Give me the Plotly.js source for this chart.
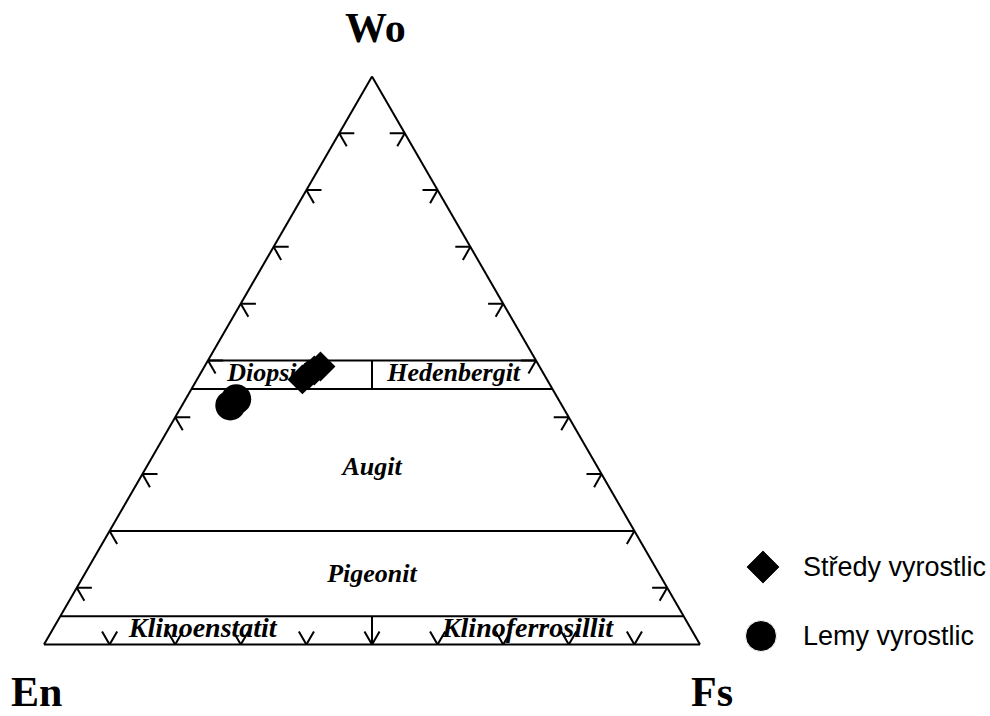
<!DOCTYPE html>
<html>
<head>
<meta charset="utf-8">
<script src="https://cdn.plot.ly/plotly-3.0.1.min.js"></script>
<style>
  html, body { margin: 0; padding: 0; background: #fff; }
  #chart { width: 990px; height: 716px; }
</style>
</head>
<body>
<div id="chart"></div>
<script>
// Pyroxene compositions in mol. % (Wo + En + Fs = 100)
const seriesNames = ['Středy vyrostlic', 'Lemy vyrostlic'];

// phenocryst cores
const coreWo = [46.67, 47.54, 48.25, 48.95];
const coreEn = [37.27, 35.92, 34.68, 33.38];
const coreFs = [16.06, 16.54, 17.07, 17.67];

// phenocryst rims
const rimWo = [42.1, 43.2];
const rimEn = [50.55, 49.1];
const rimFs = [7.35, 7.7];

// classification fields
const boundaryWo = [50, 45, 20, 5];
const fieldNames = ['Diopsid', 'Hedenbergit', 'Augit', 'Pigeonit', 'Klinoenstatit', 'Klinoferrosillit'];
const fieldWo = [47.5, 47.5, 31.0, 12.1, 2.6, 2.6];
const fieldEn = [42.05, 13.8, 34.5, 43.95, 74.5, 25.0];
const fieldFs = [10.45, 38.7, 34.5, 43.95, 22.9, 72.4];
const fieldSize = [26, 26, 26, 26, 28, 28];

// tick positions along each side
const tickVals = [10, 20, 30, 40, 50, 60, 70, 80, 90];
const cornerNames = ['Wo', 'En', 'Fs'];

const W = 990, H = 716;
const ink = '#000';
const TL = 2.3; // tick arm length in %

// helper: collect line segments as a, b, c arrays separated by gaps
function segs() {
  const s = {a: [], b: [], c: []};
  s.add = function (p, q) {
    s.a.push(p[0], q[0], null);
    s.b.push(p[1], q[1], null);
    s.c.push(p[2], q[2], null);
  };
  return s;
}

// field boundary lines
const bounds = segs();
boundaryWo.forEach(w => bounds.add([w, 100 - w, 0], [w, 0, 100 - w]));
// En = Fs dividers inside the Di-Hd and Cen-Cfs bands
bounds.add([boundaryWo[0], (100 - boundaryWo[0]) / 2, (100 - boundaryWo[0]) / 2],
           [boundaryWo[1], (100 - boundaryWo[1]) / 2, (100 - boundaryWo[1]) / 2]);
bounds.add([boundaryWo[3], (100 - boundaryWo[3]) / 2, (100 - boundaryWo[3]) / 2],
           [0, 50, 50]);

// arrow-like ticks on the three sides
const ticks = segs();
tickVals.forEach(v => {
  // En–Wo side
  ticks.add([v, 100 - v, 0], [v, 100 - v - TL, TL]);
  ticks.add([v, 100 - v, 0], [v - TL, 100 - v, TL]);
  // Wo–Fs side
  ticks.add([v, 0, 100 - v], [v, TL, 100 - v - TL]);
  ticks.add([v, 0, 100 - v], [v - TL, TL, 100 - v]);
  // En–Fs side
  ticks.add([0, 100 - v, v], [TL, 100 - v - TL, v]);
  ticks.add([0, 100 - v, v], [TL, 100 - v, v - TL]);
});

const lineTrace = (s) => ({
  type: 'scatterternary', mode: 'lines',
  a: s.a, b: s.b, c: s.c,
  line: {color: ink, width: 2},
  connectgaps: false, hoverinfo: 'skip', showlegend: false
});

const fieldLabels = {
  type: 'scatterternary', mode: 'text',
  a: fieldWo, b: fieldEn, c: fieldFs,
  text: fieldNames,
  textposition: 'middle center',
  textfont: {family: 'Liberation Serif, Times New Roman, serif', size: fieldSize,
             color: ink, weight: 'bold', style: 'italic'},
  hoverinfo: 'skip', showlegend: false
};

const rims = {
  type: 'scatterternary', mode: 'markers', name: seriesNames[1],
  a: rimWo, b: rimEn, c: rimFs,
  marker: {symbol: 'circle', size: 30, color: ink, opacity: 1},
  showlegend: false
};

const cores = {
  type: 'scatterternary', mode: 'markers', name: seriesNames[0],
  a: coreWo, b: coreEn, c: coreFs,
  marker: {symbol: 'diamond', size: 23, color: ink, opacity: 1},
  showlegend: false
};

// legend keys drawn on a hidden pixel-scaled cartesian overlay
const legendRows = [
  {name: seriesNames[0], symbol: 'diamond', size: 26, x: 763, y: 567},
  {name: seriesNames[1], symbol: 'circle', size: 31, x: 761, y: 636}
];
const legendKeys = {
  type: 'scatter', mode: 'markers',
  x: legendRows.map(r => r.x), y: legendRows.map(r => r.y),
  marker: {symbol: legendRows.map(r => r.symbol), size: legendRows.map(r => r.size),
           color: ink, opacity: 1},
  xaxis: 'x', yaxis: 'y', hoverinfo: 'skip', showlegend: false
};

const axisStyle = {
  showline: true, linecolor: ink, linewidth: 2,
  showgrid: false, ticks: '', showticklabels: false,
  title: {text: ''}
};

const serifBold = {family: 'Liberation Serif, Times New Roman, serif', size: 42, color: ink, weight: 'bold'};
const annotations = [
  {text: cornerNames[0], x: 375 / W, y: 1 - 28 / H},
  {text: cornerNames[1], x: 36 / W, y: 1 - 692 / H},
  {text: cornerNames[2], x: 712 / W, y: 1 - 692 / H}
].map(a => Object.assign({xref: 'paper', yref: 'paper', showarrow: false,
  xanchor: 'center', yanchor: 'middle', font: serifBold}, a));

legendRows.forEach(r => annotations.push({
  text: r.name, xref: 'paper', yref: 'paper', x: 801 / W, y: 1 - r.y / H,
  xanchor: 'left', yanchor: 'middle', showarrow: false,
  font: {family: 'Liberation Sans, Arial, sans-serif', size: 27, color: ink}
}));

const layout = {
  width: W, height: H,
  margin: {l: 0, r: 0, t: 0, b: 0},
  paper_bgcolor: '#fff', plot_bgcolor: 'rgba(0,0,0,0)',
  showlegend: false, hovermode: false,
  ternary: {
    sum: 100,
    domain: {x: [44 / W, 700 / W], y: [71 / H, 640 / H]},
    bgcolor: '#fff',
    aaxis: axisStyle, baxis: axisStyle, caxis: axisStyle
  },
  xaxis: {range: [0, W], visible: false, fixedrange: true, domain: [0, 1]},
  yaxis: {range: [H, 0], visible: false, fixedrange: true, domain: [0, 1]},
  annotations: annotations
};

Plotly.newPlot('chart',
  [lineTrace(bounds), lineTrace(ticks), fieldLabels, rims, cores, legendKeys],
  layout, {displayModeBar: false, staticPlot: true});
</script>
</body>
</html>
